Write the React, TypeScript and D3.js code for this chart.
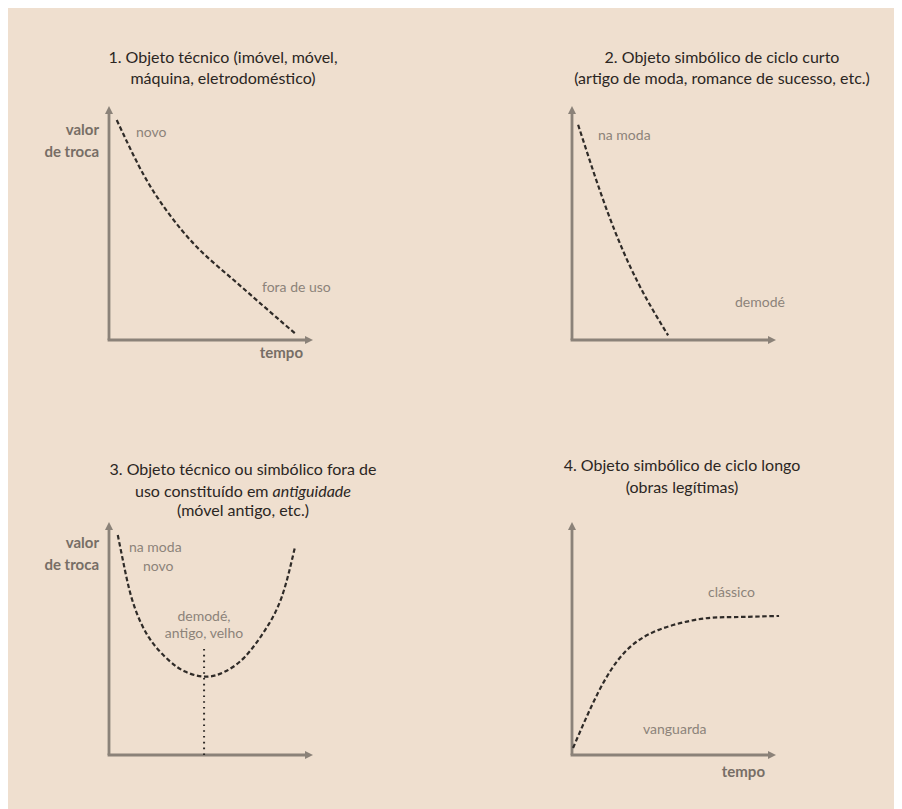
import React from "react";
import * as d3 from "d3";

// === Curve values (time 0-100 along x axis, exchange value 0-100 up y axis) ===
const tecnicoTime = [3.8, 14.4, 24.2, 35.6, 47.1, 60.1, 73.2, 91.2];
const tecnicoValue = [94, 74.8, 60.3, 47, 36.3, 26.4, 16.4, 2.8];

const curtoTime = [3, 17.6, 32.4, 47.1];
const curtoValue = [92, 54.3, 24.4, 2];

const antigoTime = [4.3, 7.8, 11.9, 19.3, 29.1, 37.3, 47.1, 56.9, 66.7, 76.5, 84.7, 91.2];
const antigoValue = [94.4, 79.4, 65.1, 50.8, 40.8, 35.8, 33.6, 35.8, 42.2, 53.6, 67.9, 89.4];
const antigoMarkTime = 46.6;
const antigoMarkValue = 46;

const longoTime = [0.5, 12.7, 25.5, 42.2, 63.2, 79.4, 101.5];
const longoValue = [3, 26.6, 43.8, 53.6, 58.4, 59.2, 59.7];

const zip = (t: number[], v: number[]) => t.map((x, i) => [x, v[i]] as [number, number]);

type Label = { text: string; x: number; y: number; anchor?: string };

type Panel = {
  ox: number; oy: number; xEnd: number; yTop: number;
  titleX: number; titleY: number[];
  title: React.ReactNode[];
  points: [number, number][];
  yLabel?: boolean; yLabelY?: number;
  tempo?: { x: number; y: number };
  notes: Label[];
  mark?: [number, number];
};

const panels: Panel[] = [
  {
    ox: 109, oy: 340, xEnd: 313, yTop: 106,
    titleX: 223, titleY: [63, 84],
    title: ["1. Objeto técnico (imóvel, móvel,", "máquina, eletrodoméstico)"],
    points: zip(tecnicoTime, tecnicoValue),
    yLabel: true, yLabelY: 135,
    tempo: { x: 303, y: 358 },
    notes: [
      { text: "novo", x: 136, y: 137 },
      { text: "fora de uso", x: 262, y: 292 },
    ],
  },
  {
    ox: 572, oy: 340, xEnd: 776, yTop: 106,
    titleX: 722, titleY: [63, 84],
    title: ["2. Objeto simbólico de ciclo curto", "(artigo de moda, romance de sucesso, etc.)"],
    points: zip(curtoTime, curtoValue),
    notes: [
      { text: "na moda", x: 598, y: 140 },
      { text: "demodé", x: 735, y: 307 },
    ],
  },
  {
    ox: 109, oy: 755, xEnd: 313, yTop: 522,
    titleX: 243, titleY: [475, 497, 516],
    title: [
      "3. Objeto técnico ou simbólico fora de",
      <>uso constituído em <tspan fontStyle="italic">antiguidade</tspan></>,
      "(móvel antigo, etc.)",
    ],
    points: zip(antigoTime, antigoValue),
    yLabel: true, yLabelY: 548,
    notes: [
      { text: "na moda", x: 129, y: 552 },
      { text: "novo", x: 143, y: 571 },
      { text: "demodé,", x: 204, y: 621, anchor: "middle" },
      { text: "antigo, velho", x: 204, y: 638, anchor: "middle" },
    ],
    mark: [antigoMarkTime, antigoMarkValue],
  },
  {
    ox: 572, oy: 755, xEnd: 776, yTop: 522,
    titleX: 682, titleY: [471, 493],
    title: ["4. Objeto simbólico de ciclo longo", "(obras legítimas)"],
    points: zip(longoTime, longoValue),
    tempo: { x: 765, y: 777 },
    notes: [
      { text: "clássico", x: 708, y: 597 },
      { text: "vanguarda", x: 643, y: 734 },
    ],
  },
];

const font = "Lato, 'Open Sans', sans-serif";
const axisColor = "#8b8279";

const PanelChart = ({ p }: { p: Panel }) => {
  const x = d3.scaleLinear().domain([0, 100]).range([p.ox, p.xEnd]);
  const y = d3.scaleLinear().domain([0, 100]).range([p.oy, p.yTop]);
  const line = d3.line<[number, number]>()
    .x(d => x(d[0]))
    .y(d => y(d[1]))
    .curve(d3.curveNatural);

  const ah = 8; // arrow head length
  const aw = 4; // half width

  return (
    <g>
      {p.title.map((t, i) => (
        <text key={i} x={p.titleX} y={p.titleY[i]} textAnchor="middle"
          fontSize={16} fill="#2b2623" fontFamily={font}>{t}</text>
      ))}

      {/* axes */}
      <path d={`M${p.ox},${p.oy}V${p.yTop + ah - 1}`} stroke={axisColor} strokeWidth={2.8} fill="none" />
      <path d={`M${p.ox - 1.4},${p.oy}H${p.xEnd - ah + 1}`} stroke={axisColor} strokeWidth={2.8} fill="none" />
      <polygon points={`${p.ox},${p.yTop} ${p.ox - aw},${p.yTop + ah} ${p.ox + aw},${p.yTop + ah}`} fill={axisColor} />
      <polygon points={`${p.xEnd},${p.oy} ${p.xEnd - ah},${p.oy - aw} ${p.xEnd - ah},${p.oy + aw}`} fill={axisColor} />

      {p.yLabel && (
        <g fontFamily={font} fontWeight="bold" fontSize={15} fill="#776e66" textAnchor="end">
          <text x={p.ox - 10} y={p.yLabelY}>valor</text>
          <text x={p.ox - 10} y={(p.yLabelY ?? 0) + 22}>de troca</text>
        </g>
      )}
      {p.tempo && (
        <text x={p.tempo.x} y={p.tempo.y} textAnchor="end" fontFamily={font}
          fontWeight="bold" fontSize={15} fill="#776e66">tempo</text>
      )}

      {p.mark && (
        <line x1={x(p.mark[0])} x2={x(p.mark[0])} y1={y(0)} y2={y(p.mark[1])}
          stroke="#2f2b28" strokeWidth={2} strokeDasharray="1.6 4.2" />
      )}

      <path d={line(p.points) ?? ""} fill="none" stroke="#2f2b28" strokeWidth={2.2}
        strokeDasharray="4.5 2.6" />

      {p.notes.map((n, i) => (
        <text key={i} x={n.x} y={n.y} textAnchor={n.anchor ?? "start"} fontFamily={font}
          fontSize={14} fill="#8c837a">{n.text}</text>
      ))}
    </g>
  );
};

export default function App() {
  return (
    <svg width={894} height={801} style={{ display: "block" }}>
      <rect x={0} y={0} width={894} height={801} fill="#efdfcf" />
      <g transform="translate(-8,-8)">
        {panels.map((p, i) => <PanelChart key={i} p={p} />)}
      </g>
    </svg>
  );
}
